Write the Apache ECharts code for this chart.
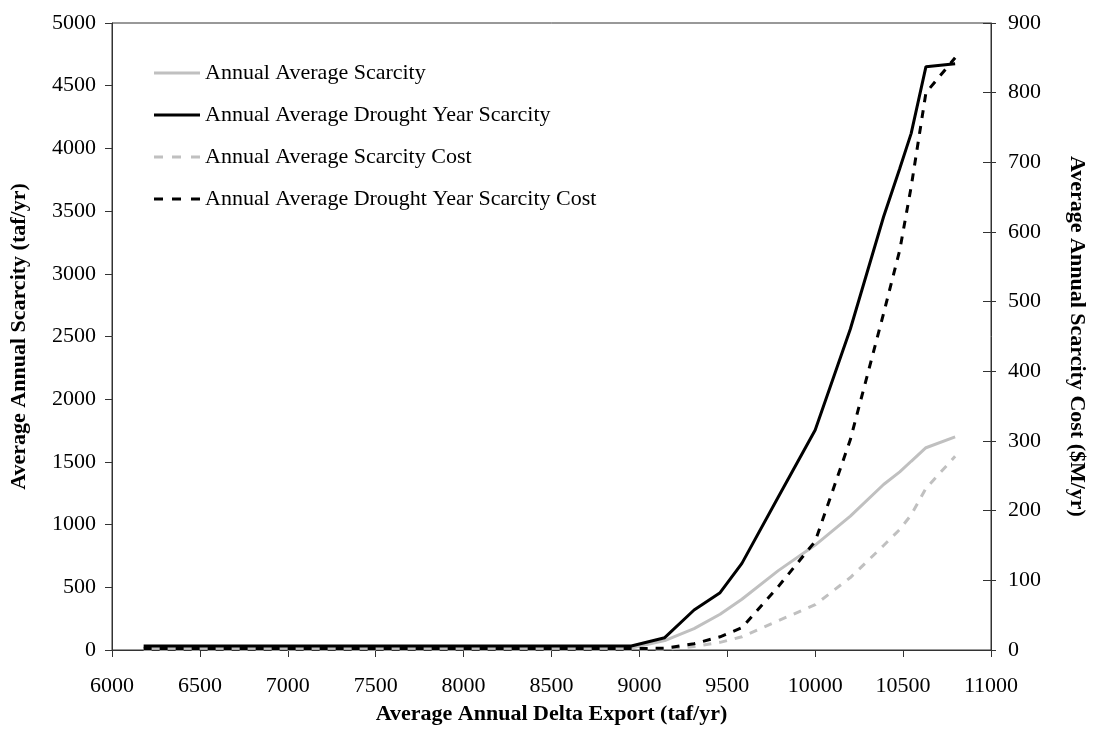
<!DOCTYPE html>
<html>
<head>
<meta charset="utf-8">
<script src="https://cdn.jsdelivr.net/npm/echarts@6/dist/echarts.min.js"></script>
<style>
html,body{margin:0;padding:0;background:#fff;}
#c{width:1096px;height:738px;}
</style>
</head>
<body>
<div id="c"></div>
<script>
// Average annual Delta export (taf/yr)
var exportX = [6180, 8954, 9144, 9311, 9459, 9583, 9790, 10000, 10200, 10389, 10481, 10546, 10630, 10796];
// Left axis: scarcity (taf/yr)
var avgScarcity = [16, 16, 75, 170, 285, 405, 633, 837, 1068, 1320, 1420, 1505, 1613, 1700];
var droughtScarcity = [32, 32, 98, 319, 457, 691, 1220, 1754, 2560, 3455, 3840, 4120, 4652, 4675];
// Right axis: scarcity cost ($M/yr)
var avgCost = [1, 1, 1, 5, 11, 19, 42, 65, 104, 150, 173, 194, 232, 278];
var droughtCost = [2, 2, 2.5, 9, 19, 32, 91, 156, 302, 483, 574, 665, 800, 850];

var seriesNames = ['Annual Average Scarcity', 'Annual Average Drought Year Scarcity',
  'Annual Average Scarcity Cost', 'Annual Average Drought Year Scarcity Cost'];

function pairs(xs, ys) { return xs.map(function (x, i) { return [x, ys[i]]; }); }
function plain(v) { return String(v); }

var FONT = '"Liberation Serif", "Times New Roman", serif';
var GREY = '#c0c0c0';
var SOLID_ICON = 'path://M0,0H46V3H0Z';
var DASH_ICON = 'path://M0,0H9V3H0Z M18,0H27V3H18Z M37,0H46V3H37Z';

var chart = echarts.init(document.getElementById('c'), null, { renderer: 'canvas' });
chart.setOption({
  animation: false,
  backgroundColor: '#fff',
  grid: { left: 110, right: 86, top: 23, bottom: 88, show: true, borderColor: '#333', borderWidth: 1, containLabel: false },
  legend: {
    orient: 'vertical', left: 149, top: 57, itemWidth: 46, itemHeight: 3, itemGap: 20,
    textStyle: { fontFamily: FONT, fontSize: 22, color: '#000', lineHeight: 22 },
    data: [
      { name: seriesNames[0], icon: SOLID_ICON },
      { name: seriesNames[1], icon: SOLID_ICON },
      { name: seriesNames[2], icon: DASH_ICON },
      { name: seriesNames[3], icon: DASH_ICON }
    ]
  },
  xAxis: {
    type: 'value', min: 6000, max: 11000, interval: 500,
    name: 'Average Annual Delta Export (taf/yr)', nameLocation: 'middle', nameGap: 53,
    nameTextStyle: { fontFamily: FONT, fontSize: 22, fontWeight: 'bold', color: '#000' },
    axisLine: { show: true, lineStyle: { color: '#333', width: 1 } },
    axisTick: { show: true, length: 7, lineStyle: { color: '#333' } },
    axisLabel: { fontFamily: FONT, fontSize: 22, color: '#000', margin: 25, formatter: plain },
    splitLine: { show: false }
  },
  yAxis: [{
    type: 'value', min: 0, max: 5000, interval: 500, position: 'left',
    name: 'Average Annual Scarcity (taf/yr)', nameLocation: 'middle', nameGap: 82,
    nameTextStyle: { fontFamily: FONT, fontSize: 22, fontWeight: 'bold', color: '#000' },
    axisLine: { show: true, lineStyle: { color: '#333', width: 1 } },
    axisTick: { show: true, length: 7, lineStyle: { color: '#333' } },
    axisLabel: { fontFamily: FONT, fontSize: 22, color: '#000', margin: 16, formatter: plain },
    splitLine: { show: false }
  }, {
    type: 'value', min: 0, max: 900, interval: 100, position: 'right',
    name: 'Average Annual Scarcity Cost ($M/yr)', nameLocation: 'middle', nameGap: 75, nameRotate: -90,
    nameTextStyle: { fontFamily: FONT, fontSize: 22, fontWeight: 'bold', color: '#000' },
    axisLine: { show: true, lineStyle: { color: '#333', width: 1 } },
    axisTick: { show: true, length: 5, lineStyle: { color: '#333' } },
    axisLabel: { fontFamily: FONT, fontSize: 22, color: '#000', margin: 17, formatter: plain },
    splitLine: { show: false }
  }, {
    type: 'value', min: 0, max: 900, interval: 100, position: 'right',
    axisLine: { show: false },
    axisTick: { show: true, inside: true, length: 8, lineStyle: { color: '#333' } },
    axisLabel: { show: false },
    splitLine: { show: false }
  }],
  series: [{
    name: seriesNames[0], type: 'line', yAxisIndex: 0, symbol: 'none', z: 2,
    lineStyle: { color: GREY, width: 3 }, itemStyle: { color: GREY },
    data: pairs(exportX, avgScarcity)
  }, {
    name: seriesNames[1], type: 'line', yAxisIndex: 0, symbol: 'none', z: 3,
    lineStyle: { color: '#000', width: 3 }, itemStyle: { color: '#000' },
    data: pairs(exportX, droughtScarcity)
  }, {
    name: seriesNames[2], type: 'line', yAxisIndex: 1, symbol: 'none', z: 4,
    lineStyle: { color: GREY, width: 3, type: [8, 8] }, itemStyle: { color: GREY },
    data: pairs(exportX, avgCost)
  }, {
    name: seriesNames[3], type: 'line', yAxisIndex: 1, symbol: 'none', z: 5,
    lineStyle: { color: '#000', width: 3, type: [8, 8] }, itemStyle: { color: '#000' },
    data: pairs(exportX, droughtCost)
  }]
});
</script>
</body>
</html>
